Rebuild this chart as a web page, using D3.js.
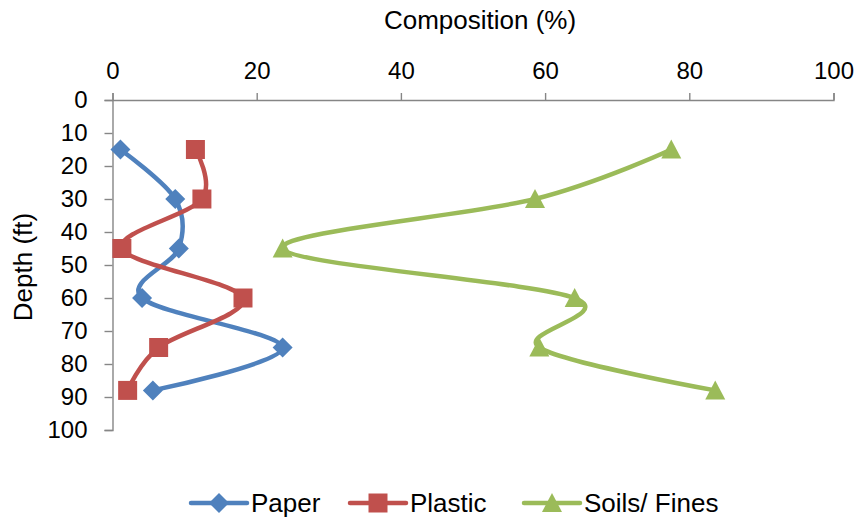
<!DOCTYPE html>
<html>
<head>
<meta charset="utf-8">
<script src="https://cdn.jsdelivr.net/npm/d3@7"></script>
<style>
  html, body { margin: 0; padding: 0; background: #fff; }
  svg { display: block; font-family: "Liberation Sans", Arial, sans-serif; }
</style>
</head>
<body>
<svg id="chart" width="863" height="521"></svg>
<script>
// Sampling depths (ft)
const depths = [15, 30, 45, 60, 75, 88];

// Composition (%) at each depth
const paper   = [1.1, 8.7, 9.2, 4.1, 23.6, 5.6];
const plastic = [11.5, 12.4, 1.3, 18.1, 6.4, 2.1];
const soils   = [77.5, 58.6, 23.6, 64.1, 59.2, 83.6];

const compTicks  = [0, 20, 40, 60, 80, 100];
const depthTicks = [0, 10, 20, 30, 40, 50, 60, 70, 80, 90, 100];

const seriesNames  = ["Paper", "Plastic", "Soils/ Fines"];
const seriesColors = ["#4F81BD", "#C0504D", "#9BBB59"];

// Marker outlines (centred on the data point)
const diamond  = r => `M0,${-r}L${r},0L0,${r}L${-r},0Z`;
const square   = r => `M${-r},${-r}H${r}V${r}H${-r}Z`;
const triangle = r => `M0,${-r}L${r},${r - 1}H${-r}Z`;
const seriesMarkers = [diamond(10), square(9.5), triangle(10)];

const series = [paper, plastic, soils].map((vals, i) => ({
  name: seriesNames[i],
  color: seriesColors[i],
  marker: seriesMarkers[i],
  points: vals.map((v, j) => ({ comp: v, depth: depths[j] }))
}));

const svg = d3.select("#chart");
const plot = { left: 112.5, right: 833.5, top: 100, bottom: 430 };

const x = d3.scaleLinear().domain([0, 100]).range([plot.left, plot.right]);
const y = d3.scaleLinear().domain([0, 100]).range([plot.top, plot.bottom]);

const axisColor = "#868686";

// Composition axis along the top
const xAxis = svg.append("g")
  .attr("transform", `translate(0,${plot.top})`)
  .call(d3.axisTop(x).tickValues(compTicks).tickSize(7).tickPadding(14).tickFormat(d3.format("d")));

// Depth axis on the left, increasing downward
const yAxis = svg.append("g")
  .attr("transform", `translate(${plot.left},0)`)
  .call(d3.axisLeft(y).tickValues(depthTicks).tickSize(8).tickPadding(17).tickFormat(d3.format("d")));

[xAxis, yAxis].forEach(g => {
  g.select(".domain").attr("stroke", axisColor).attr("stroke-width", 1.4);
  g.selectAll(".tick line").attr("stroke", axisColor).attr("stroke-width", 1.4);
  g.selectAll(".tick text").attr("fill", "#000").style("font-size", "24px");
});

// Axis titles
svg.append("text")
  .attr("x", 480).attr("y", 29)
  .attr("text-anchor", "middle")
  .style("font-size", "26px")
  .text("Composition (%)");

svg.append("text")
  .attr("transform", "translate(32,267) rotate(-90)")
  .attr("text-anchor", "middle")
  .style("font-size", "26px")
  .text("Depth (ft)");

// Smoothed profile lines
const line = d3.line()
  .x(d => x(d.comp))
  .y(d => y(d.depth))
  .curve(d3.curveCardinal.tension(0));

const marks = svg.append("g");
series.forEach(s => {
  marks.append("path")
    .datum(s.points)
    .attr("d", line)
    .attr("fill", "none")
    .attr("stroke", s.color)
    .attr("stroke-width", 4.5)
    .attr("stroke-linecap", "round")
    .attr("stroke-linejoin", "round");
});

series.forEach(s => {
  marks.selectAll(null)
    .data(s.points)
    .join("path")
    .attr("transform", d => `translate(${x(d.comp)},${y(d.depth)})`)
    .attr("d", s.marker)
    .attr("fill", s.color);
});

// Legend
const legendX = [191, 350, 524];
const legendY = 503;
const legend = svg.append("g");
series.forEach((s, i) => {
  const lx = legendX[i];
  legend.append("line")
    .attr("x1", lx).attr("x2", lx + 56)
    .attr("y1", legendY).attr("y2", legendY)
    .attr("stroke", s.color).attr("stroke-width", 4.5)
    .attr("stroke-linecap", "round");
  legend.append("path")
    .attr("transform", `translate(${lx + 28},${legendY})`)
    .attr("d", s.marker)
    .attr("fill", s.color);
  legend.append("text")
    .attr("x", lx + 60).attr("y", legendY + 9)
    .style("font-size", "26px")
    .text(s.name);
});
</script>
</body>
</html>
